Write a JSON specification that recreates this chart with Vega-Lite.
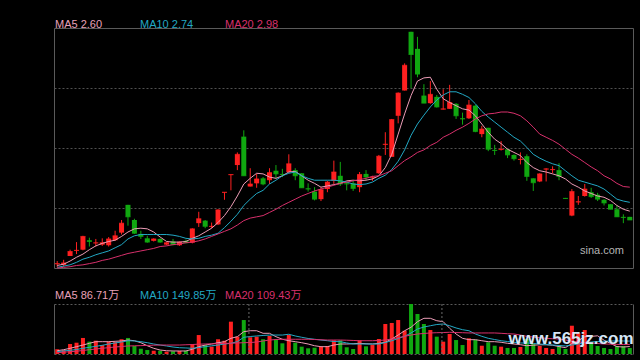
{
"$schema":"https://vega.github.io/schema/vega-lite/v6.json",
"background":"#000000",
"padding":{"left":53,"right":6,"top":18,"bottom":5},
"config":{"view":{"stroke":null},"font":"Liberation Sans, Noto Sans CJK SC","concat":{"spacing":19}},
"title":{"text":"www.565jz.com","orient":"bottom","anchor":"end","offset":-24,"color":"#d6e6f6","fontSize":17,"fontWeight":"bold","font":"Liberation Sans"},
"datasets":{
"div":[{"i":31},{"i":61}],
"k":[
{"i":1,"o":1.76,"c":1.77,"h":1.81,"l":1.71,"v":55,"m5":1.74,"m10":1.71,"m20":1.70,"v5":38,"v10":27,"v20":15},
{"i":2,"o":1.75,"c":1.78,"h":1.83,"l":1.72,"v":46,"m5":1.76,"m10":1.73,"m20":1.71,"v5":50,"v10":35,"v20":21},
{"i":3,"o":1.89,"c":1.96,"h":1.99,"l":1.89,"v":116,"m5":1.81,"m10":1.75,"m20":1.72,"v5":66,"v10":43,"v20":27},
{"i":4,"o":1.97,"c":1.98,"h":2.11,"l":1.92,"v":131,"m5":1.87,"m10":1.79,"m20":1.74,"v5":85,"v10":52,"v20":32},
{"i":5,"o":1.99,"c":2.20,"h":2.21,"l":1.98,"v":186,"m5":1.92,"m10":1.84,"m20":1.75,"v5":104,"v10":66,"v20":41},
{"i":6,"o":2.14,"c":2.12,"h":2.18,"l":2.04,"v":143,"m5":1.99,"m10":1.87,"m20":1.77,"v5":124,"v10":78,"v20":50},
{"i":7,"o":2.09,"c":2.10,"h":2.16,"l":2.04,"v":154,"m5":2.05,"m10":1.91,"m20":1.79,"v5":143,"v10":89,"v20":58},
{"i":8,"o":2.07,"c":2.10,"h":2.17,"l":2.05,"v":104,"m5":2.09,"m10":1.94,"m20":1.82,"v5":143,"v10":101,"v20":66},
{"i":9,"o":2.06,"c":2.16,"h":2.19,"l":2.04,"v":143,"m5":2.12,"m10":1.97,"m20":1.84,"v5":143,"v10":116,"v20":74},
{"i":10,"o":2.14,"c":2.21,"h":2.29,"l":2.13,"v":139,"m5":2.14,"m10":2.02,"m20":1.87,"v5":147,"v10":128,"v20":81},
{"i":11,"o":2.26,"c":2.41,"h":2.46,"l":2.23,"v":171,"m5":2.20,"m10":2.07,"m20":1.90,"v5":151,"v10":139,"v20":87},
{"i":12,"o":2.70,"c":2.51,"h":2.70,"l":2.37,"v":186,"m5":2.27,"m10":2.16,"m20":1.93,"v5":162,"v10":154,"v20":93},
{"i":13,"o":2.46,"c":2.25,"h":2.48,"l":2.24,"v":93,"m5":2.32,"m10":2.21,"m20":1.95,"v5":154,"v10":151,"v20":95},
{"i":14,"o":2.24,"c":2.20,"h":2.29,"l":2.16,"v":61,"m5":2.33,"m10":2.23,"m20":1.97,"v5":131,"v10":143,"v20":97},
{"i":15,"o":2.17,"c":2.11,"h":2.21,"l":2.10,"v":46,"m5":2.32,"m10":2.23,"m20":1.99,"v5":96,"v10":131,"v20":100},
{"i":16,"o":2.13,"c":2.16,"h":2.17,"l":2.12,"v":38,"m5":2.27,"m10":2.23,"m20":2.01,"v5":66,"v10":116,"v20":102},
{"i":17,"o":2.16,"c":2.11,"h":2.17,"l":2.10,"v":38,"m5":2.19,"m10":2.23,"m20":2.04,"v5":46,"v10":104,"v20":104},
{"i":18,"o":2.07,"c":2.10,"h":2.11,"l":2.06,"v":27,"m5":2.12,"m10":2.23,"m20":2.05,"v5":38,"v10":93,"v20":104},
{"i":19,"o":2.12,"c":2.07,"h":2.16,"l":2.06,"v":31,"m5":2.11,"m10":2.22,"m20":2.07,"v5":35,"v10":81,"v20":104},
{"i":20,"o":2.06,"c":2.11,"h":2.12,"l":2.05,"v":35,"m5":2.11,"m10":2.20,"m20":2.08,"v5":35,"v10":73,"v20":104},
{"i":21,"o":2.13,"c":2.10,"h":2.15,"l":2.09,"v":38,"m5":2.12,"m10":2.17,"m20":2.10,"v5":35,"v10":70,"v20":107},
{"i":22,"o":2.10,"c":2.32,"h":2.33,"l":2.09,"v":116,"m5":2.17,"m10":2.16,"m20":2.11,"v5":55,"v10":66,"v20":110},
{"i":23,"o":2.41,"c":2.48,"h":2.59,"l":2.35,"v":220,"m5":2.21,"m10":2.17,"m20":2.13,"v5":85,"v10":75,"v20":114},
{"i":24,"o":2.45,"c":2.36,"h":2.46,"l":2.33,"v":104,"m5":2.27,"m10":2.20,"m20":2.16,"v5":104,"v10":85,"v20":116},
{"i":25,"o":2.35,"c":2.36,"h":2.42,"l":2.33,"v":85,"m5":2.33,"m10":2.22,"m20":2.20,"v5":116,"v10":95,"v20":118},
{"i":26,"o":2.39,"c":2.62,"h":2.63,"l":2.38,"v":171,"m5":2.42,"m10":2.25,"m20":2.24,"v5":131,"v10":104,"v20":121},
{"i":27,"o":2.89,"c":2.90,"h":2.90,"l":2.78,"v":154,"m5":2.53,"m10":2.34,"m20":2.28,"v5":143,"v10":116,"v20":122},
{"i":28,"o":3.17,"c":3.18,"h":3.18,"l":2.93,"v":375,"m5":2.67,"m10":2.44,"m20":2.32,"v5":182,"v10":124,"v20":124},
{"i":29,"o":3.33,"c":3.50,"h":3.53,"l":3.25,"v":201,"m5":2.84,"m10":2.55,"m20":2.38,"v5":201,"v10":143,"v20":128},
{"i":30,"o":3.78,"c":3.16,"h":3.88,"l":3.16,"v":394,"m5":3.03,"m10":2.69,"m20":2.45,"v5":259,"v10":194,"v20":131},
{"i":31,"o":2.99,"c":3.03,"h":3.28,"l":2.99,"v":194,"m5":3.12,"m10":2.79,"m20":2.49,"v5":270,"v10":203,"v20":133},
{"i":32,"o":3.04,"c":3.11,"h":3.19,"l":2.97,"v":201,"m5":3.20,"m10":2.88,"m20":2.51,"v5":270,"v10":209,"v20":139},
{"i":33,"o":3.12,"c":3.03,"h":3.14,"l":3.01,"v":171,"m5":3.19,"m10":2.93,"m20":2.53,"v5":240,"v10":215,"v20":151},
{"i":34,"o":3.09,"c":3.21,"h":3.28,"l":3.03,"v":209,"m5":3.14,"m10":3.03,"m20":2.58,"v5":240,"v10":220,"v20":162},
{"i":35,"o":3.24,"c":3.19,"h":3.33,"l":3.12,"v":171,"m5":3.12,"m10":3.09,"m20":2.63,"v5":201,"v10":220,"v20":168},
{"i":36,"o":3.19,"c":3.18,"h":3.27,"l":3.14,"v":124,"m5":3.16,"m10":3.16,"m20":2.69,"v5":171,"v10":220,"v20":171},
{"i":37,"o":3.22,"c":3.35,"h":3.50,"l":3.21,"v":220,"m5":3.22,"m10":3.20,"m20":2.74,"v5":154,"v10":229,"v20":171},
{"i":38,"o":3.25,"c":3.16,"h":3.28,"l":3.09,"v":131,"m5":3.23,"m10":3.22,"m20":2.79,"v5":143,"v10":209,"v20":171},
{"i":39,"o":3.20,"c":2.97,"h":3.20,"l":2.97,"v":85,"m5":3.16,"m10":3.16,"m20":2.84,"v5":131,"v10":194,"v20":171},
{"i":40,"o":2.96,"c":2.95,"h":3.04,"l":2.91,"v":66,"m5":3.09,"m10":3.12,"m20":2.88,"v5":116,"v10":180,"v20":171},
{"i":41,"o":2.91,"c":2.79,"h":2.98,"l":2.77,"v":73,"m5":3.04,"m10":3.09,"m20":2.92,"v5":96,"v10":171,"v20":168},
{"i":42,"o":2.79,"c":2.94,"h":2.98,"l":2.76,"v":85,"m5":2.98,"m10":3.09,"m20":2.95,"v5":85,"v10":162,"v20":165},
{"i":43,"o":2.95,"c":3.06,"h":3.08,"l":2.90,"v":93,"m5":3.00,"m10":3.09,"m20":2.98,"v5":85,"v10":154,"v20":162},
{"i":44,"o":3.08,"c":3.22,"h":3.40,"l":3.03,"v":159,"m5":3.02,"m10":3.09,"m20":3.01,"v5":104,"v10":145,"v20":162},
{"i":45,"o":3.16,"c":3.03,"h":3.38,"l":3.00,"v":159,"m5":3.04,"m10":3.08,"m20":3.04,"v5":116,"v10":143,"v20":162},
{"i":46,"o":3.04,"c":3.03,"h":3.07,"l":2.93,"v":78,"m5":3.08,"m10":3.06,"m20":3.06,"v5":116,"v10":128,"v20":160},
{"i":47,"o":3.04,"c":2.96,"h":3.08,"l":2.92,"v":58,"m5":3.09,"m10":3.03,"m20":3.08,"v5":119,"v10":116,"v20":157},
{"i":48,"o":2.98,"c":3.18,"h":3.22,"l":2.90,"v":159,"m5":3.08,"m10":3.02,"m20":3.10,"v5":124,"v10":116,"v20":154},
{"i":49,"o":3.19,"c":3.14,"h":3.25,"l":3.09,"v":89,"m5":3.09,"m10":3.03,"m20":3.12,"v5":119,"v10":116,"v20":154},
{"i":50,"o":3.13,"c":3.14,"h":3.16,"l":3.08,"v":104,"m5":3.11,"m10":3.06,"m20":3.15,"v5":116,"v10":116,"v20":154},
{"i":51,"o":3.20,"c":3.47,"h":3.49,"l":3.19,"v":174,"m5":3.16,"m10":3.12,"m20":3.16,"v5":124,"v10":116,"v20":157},
{"i":52,"o":3.65,"c":3.66,"h":3.85,"l":3.49,"v":348,"m5":3.29,"m10":3.17,"m20":3.20,"v5":136,"v10":133,"v20":162},
{"i":53,"o":3.46,"c":4.05,"h":4.06,"l":3.46,"v":360,"m5":3.50,"m10":3.26,"m20":3.24,"v5":174,"v10":154,"v20":174},
{"i":54,"o":4.11,"c":4.47,"h":4.48,"l":3.99,"v":394,"m5":3.82,"m10":3.39,"m20":3.32,"v5":220,"v10":180,"v20":189},
{"i":55,"o":4.51,"c":4.91,"h":4.94,"l":4.51,"v":270,"m5":4.14,"m10":3.57,"m20":3.40,"v5":270,"v10":205,"v20":205},
{"i":56,"o":5.44,"c":5.08,"h":5.44,"l":4.55,"v":580,"m5":4.43,"m10":3.80,"m20":3.46,"v5":310,"v10":244,"v20":220},
{"i":57,"o":5.17,"c":4.77,"h":5.36,"l":4.72,"v":464,"m5":4.66,"m10":3.98,"m20":3.53,"v5":375,"v10":290,"v20":232},
{"i":58,"o":4.43,"c":4.31,"h":4.61,"l":4.31,"v":348,"m5":4.71,"m10":4.12,"m20":3.57,"v5":414,"v10":313,"v20":238},
{"i":59,"o":4.31,"c":4.45,"h":4.66,"l":4.30,"v":278,"m5":4.72,"m10":4.25,"m20":3.64,"v5":414,"v10":328,"v20":244},
{"i":60,"o":4.41,"c":4.25,"h":4.44,"l":4.24,"v":201,"m5":4.53,"m10":4.36,"m20":3.69,"v5":386,"v10":342,"v20":247},
{"i":61,"o":4.21,"c":4.22,"h":4.53,"l":4.21,"v":143,"m5":4.38,"m10":4.44,"m20":3.77,"v5":375,"v10":348,"v20":249},
{"i":62,"o":4.22,"c":4.32,"h":4.60,"l":4.22,"v":232,"m5":4.32,"m10":4.49,"m20":3.82,"v5":298,"v10":328,"v20":252},
{"i":63,"o":4.30,"c":4.11,"h":4.31,"l":4.06,"v":162,"m5":4.27,"m10":4.49,"m20":3.88,"v5":232,"v10":302,"v20":249},
{"i":64,"o":4.07,"c":4.06,"h":4.16,"l":3.97,"v":104,"m5":4.22,"m10":4.45,"m20":3.93,"v5":182,"v10":282,"v20":247},
{"i":65,"o":4.07,"c":4.28,"h":4.36,"l":4.06,"v":182,"m5":4.20,"m10":4.40,"m20":3.99,"v5":166,"v10":270,"v20":244},
{"i":66,"o":4.27,"c":3.86,"h":4.28,"l":3.85,"v":166,"m5":4.11,"m10":4.30,"m20":4.06,"v5":166,"v10":232,"v20":244},
{"i":67,"o":3.82,"c":3.90,"h":3.95,"l":3.77,"v":96,"m5":3.98,"m10":4.18,"m20":4.11,"v5":154,"v10":205,"v20":244},
{"i":68,"o":3.92,"c":3.58,"h":3.92,"l":3.55,"v":136,"m5":3.85,"m10":4.09,"m20":4.14,"v5":143,"v10":182,"v20":244},
{"i":69,"o":3.57,"c":3.56,"h":3.65,"l":3.49,"v":96,"m5":3.74,"m10":4.01,"m20":4.15,"v5":143,"v10":168,"v20":244},
{"i":70,"o":3.57,"c":3.58,"h":3.71,"l":3.56,"v":85,"m5":3.67,"m10":3.93,"m20":4.17,"v5":136,"v10":154,"v20":240},
{"i":71,"o":3.58,"c":3.49,"h":3.58,"l":3.44,"v":70,"m5":3.58,"m10":3.85,"m20":4.17,"v5":124,"v10":145,"v20":235},
{"i":72,"o":3.49,"c":3.43,"h":3.50,"l":3.40,"v":70,"m5":3.53,"m10":3.77,"m20":4.15,"v5":116,"v10":136,"v20":232},
{"i":73,"o":3.41,"c":3.42,"h":3.53,"l":3.34,"v":81,"m5":3.48,"m10":3.71,"m20":4.11,"v5":108,"v10":128,"v20":220},
{"i":74,"o":3.47,"c":3.15,"h":3.50,"l":3.08,"v":174,"m5":3.37,"m10":3.61,"m20":4.03,"v5":96,"v10":128,"v20":205},
{"i":75,"o":3.12,"c":3.05,"h":3.12,"l":2.92,"v":116,"m5":3.29,"m10":3.50,"m20":3.93,"v5":102,"v10":122,"v20":197},
{"i":76,"o":3.07,"c":3.19,"h":3.20,"l":3.06,"v":93,"m5":3.24,"m10":3.44,"m20":3.82,"v5":107,"v10":116,"v20":189},
{"i":77,"o":3.26,"c":3.27,"h":3.28,"l":3.07,"v":70,"m5":3.22,"m10":3.39,"m20":3.77,"v5":107,"v10":110,"v20":182},
{"i":78,"o":3.25,"c":3.26,"h":3.31,"l":3.20,"v":58,"m5":3.19,"m10":3.35,"m20":3.72,"v5":102,"v10":104,"v20":177},
{"i":79,"o":3.25,"c":3.15,"h":3.36,"l":3.09,"v":93,"m5":3.16,"m10":3.32,"m20":3.66,"v5":86,"v10":99,"v20":174},
{"i":80,"o":2.81,"c":2.80,"h":2.81,"l":2.80,"v":58,"m5":3.11,"m10":3.24,"m20":3.58,"v5":74,"v10":93,"v20":162},
{"i":81,"o":2.53,"c":2.91,"h":2.95,"l":2.52,"v":328,"m5":3.03,"m10":3.16,"m20":3.50,"v5":121,"v10":104,"v20":151},
{"i":82,"o":2.74,"c":2.75,"h":2.84,"l":2.70,"v":244,"m5":2.98,"m10":3.09,"m20":3.44,"v5":155,"v10":116,"v20":139},
{"i":83,"o":2.84,"c":2.95,"h":3.03,"l":2.83,"v":278,"m5":2.92,"m10":3.06,"m20":3.37,"v5":200,"v10":133,"v20":133},
{"i":84,"o":2.90,"c":2.83,"h":2.97,"l":2.81,"v":116,"m5":2.88,"m10":3.03,"m20":3.30,"v5":204,"v10":139,"v20":128},
{"i":85,"o":2.86,"c":2.79,"h":2.89,"l":2.76,"v":93,"m5":2.84,"m10":3.00,"m20":3.24,"v5":211,"v10":145,"v20":122},
{"i":86,"o":2.78,"c":2.73,"h":2.79,"l":2.69,"v":70,"m5":2.82,"m10":2.95,"m20":3.16,"v5":160,"v10":148,"v20":116},
{"i":87,"o":2.71,"c":2.63,"h":2.71,"l":2.63,"v":58,"m5":2.77,"m10":2.87,"m20":3.11,"v5":123,"v10":151,"v20":114},
{"i":88,"o":2.63,"c":2.51,"h":2.69,"l":2.51,"v":93,"m5":2.69,"m10":2.79,"m20":3.04,"v5":86,"v10":151,"v20":111},
{"i":89,"o":2.51,"c":2.50,"h":2.55,"l":2.41,"v":93,"m5":2.63,"m10":2.76,"m20":2.99,"v5":81,"v10":151,"v20":110},
{"i":90,"o":2.51,"c":2.46,"h":2.51,"l":2.46,"v":70,"m5":2.60,"m10":2.74,"m20":2.98,"v5":86.71,"v10":149.85,"v20":109.43}
]},
"resolve":{"scale":{"color":"independent","x":"independent","y":"independent"},"legend":{"color":"independent"}},
"vconcat":[
{
"width":579,"height":240,
"data":{"name":"k"},
"view":{"stroke":"#5a5a5a"},
"title":{"text":"sina.com","orient":"bottom","anchor":"end","offset":-25,"dx":-9,"color":"#b4b4b4","fontSize":11,"fontWeight":"normal","font":"Liberation Sans"},
"encoding":{"x":{"field":"i","type":"ordinal","axis":null,"scale":{"paddingInner":0,"paddingOuter":0}}},
"layer":[
{"mark":{"type":"rule","strokeWidth":1},
 "encoding":{"y":{"field":"l","type":"quantitative","scale":{"domain":[1.7,5.5],"nice":false,"zero":false},
   "axis":{"grid":true,"gridColor":"#505050","gridDash":[2,2],"values":[2.65,3.6,4.55],"labels":false,"ticks":false,"domain":false,"title":null}},
  "y2":{"field":"h"},
  "color":{"condition":{"test":"datum.c >= datum.o","value":"#ff2020"},"value":"#10a810"}}},
{"mark":{"type":"bar","size":5},
 "encoding":{"y":{"field":"o","type":"quantitative"},"y2":{"field":"c"},
  "color":{"condition":{"test":"datum.c >= datum.o","value":"#ff2020"},"value":"#10a810"}}},
{"mark":{"type":"tick","size":5,"thickness":1,"orient":"horizontal"},
 "encoding":{"y":{"field":"c","type":"quantitative"},
  "color":{"condition":{"test":"datum.c >= datum.o","value":"#ff2020"},"value":"#10a810"}}},
{"transform":[{"fold":["m5","m10","m20"],"as":["s","ma"]}],
 "mark":{"type":"line","strokeWidth":1},
 "encoding":{"y":{"field":"ma","type":"quantitative"},
  "color":{"field":"s","type":"nominal","scale":{"domain":["m5","m10","m20"],"range":["#ec9cb6","#22a8c4","#d8306c"]},
   "legend":{"orient":"top","direction":"horizontal","title":null,"symbolSize":0.001,"symbolOpacity":0,"symbolStrokeWidth":0,"labelOffset":-10,"labelFontSize":11,"columnPadding":30,"gridAlign":"all","padding":0,"offset":-2,
    "labelExpr":"datum.value == 'm5' ? 'MA5 2.60' : datum.value == 'm10' ? 'MA10 2.74' : 'MA20 2.98'",
    "encode":{"labels":{"update":{"fill":{"signal":"datum.value == 'm5' ? '#e8a0b8' : datum.value == 'm10' ? '#22a8c4' : '#d8306c'"}}}}}}}}
]},
{
"width":579,"height":50,
"data":{"name":"k"},
"layer":[
{"mark":{"type":"bar","size":4},
 "encoding":{"x":{"field":"i","type":"ordinal","scale":{"paddingInner":0,"paddingOuter":0},"axis":{"orient":"bottom","labels":false,"ticks":false,"title":null,"domainColor":"#5a5a5a","domainDash":[2,2]}},
  "y":{"field":"v","type":"quantitative","scale":{"domain":[0,580],"nice":false},"axis":{"orient":"left","labels":false,"ticks":false,"grid":false,"title":null,"domainColor":"#5a5a5a"}},
  "color":{"condition":{"test":"datum.c >= datum.o","value":"#ff2020"},"value":"#10a810"}}},
{"transform":[{"fold":["v5","v10","v20"],"as":["s","vm"]}],
 "mark":{"type":"line","strokeWidth":1},
 "encoding":{"x":{"field":"i","type":"ordinal","axis":{"orient":"top","labels":false,"ticks":false,"title":null,"domainColor":"#5a5a5a","domainDash":[2,2]}},
  "y":{"field":"vm","type":"quantitative","axis":{"orient":"right","labels":false,"ticks":false,"grid":false,"title":null,"domainColor":"#5a5a5a"}},
  "color":{"field":"s","type":"nominal","scale":{"domain":["v5","v10","v20"],"range":["#ec9cb6","#22a8c4","#d8306c"]},
   "legend":{"orient":"top","direction":"horizontal","title":null,"symbolSize":0.001,"symbolOpacity":0,"symbolStrokeWidth":0,"labelOffset":-10,"labelFontSize":11,"columnPadding":7,"gridAlign":"all","padding":0,"offset":3,
    "labelExpr":"datum.value == 'v5' ? 'MA5 86.71万' : datum.value == 'v10' ? 'MA10 149.85万' : 'MA20 109.43万'",
    "encode":{"labels":{"update":{"fill":{"signal":"datum.value == 'v5' ? '#e8a0b8' : datum.value == 'v10' ? '#22a8c4' : '#d8306c'"}}}}}}}},
{"data":{"name":"div"},"mark":{"type":"rule","strokeDash":[2,2],"color":"#6a6a6a","strokeWidth":1},
 "encoding":{"x":{"field":"i","type":"ordinal","bandPosition":0.3,"axis":null}}}
]}
]
}
